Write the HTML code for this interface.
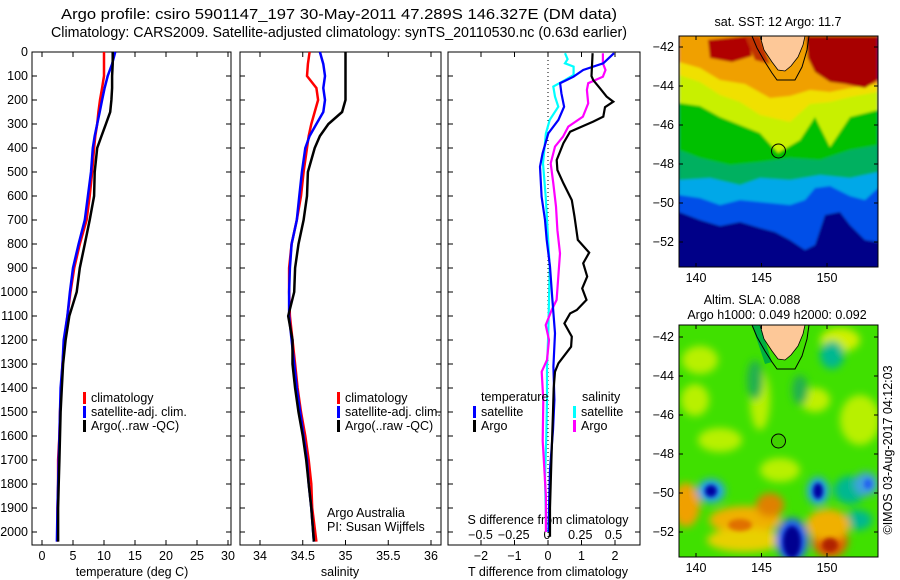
<!DOCTYPE html>
<html><head><meta charset="utf-8">
<style>
html,body{margin:0;padding:0;background:#fff;}
svg{display:block;font-family:"Liberation Sans",sans-serif;}
text{fill:#000;}
</style></head>
<body>
<svg id="fig" width="900" height="580" viewBox="0 0 900 580" xmlns="http://www.w3.org/2000/svg">
<defs>
 <filter id="blur4" x="-50%" y="-50%" width="200%" height="200%"><feGaussianBlur stdDeviation="4"/></filter>
 <filter id="blur2" x="-50%" y="-50%" width="200%" height="200%"><feGaussianBlur stdDeviation="2"/></filter>
 <filter id="blur1" x="-10%" y="-10%" width="120%" height="120%"><feGaussianBlur stdDeviation="1.2"/></filter>
 <clipPath id="clipMap1"><rect x="679" y="36" width="199" height="231"/></clipPath>
 <clipPath id="clipMap2"><rect x="679" y="325" width="199" height="232"/></clipPath>
</defs>
<text x="339" y="19" font-size="14.5" text-anchor="middle" textLength="556" lengthAdjust="spacingAndGlyphs">Argo profile: csiro 5901147_197 30-May-2011 47.289S 146.327E (DM data)</text>
<text x="339" y="37" font-size="14.5" text-anchor="middle" textLength="576" lengthAdjust="spacingAndGlyphs">Climatology: CARS2009. Satellite-adjusted climatology: synTS_20110530.nc (0.63d earlier)</text>
<g id="panels"></g>
<g id="maps"></g>
</svg>
<script>
// ---------- data ----------
const profDepth = [0,50,100,150,200,250,300,350,400,500,600,700,800,900,1000,1100,1200,1300,1400,1500,1600,1700,1800,1900,2040];
const tempClim = [10.0,10.0,10.0,9.7,9.35,9.1,8.9,8.6,8.4,8.1,7.7,7.2,6.1,5.2,4.6,4.1,3.6,3.3,3.1,2.9,2.8,2.6,2.6,2.5,2.5];
const tempSat  = [11.8,11.3,10.6,10.1,9.7,9.3,8.9,8.5,8.2,7.9,7.4,6.9,5.9,5.0,4.5,4.1,3.5,3.3,3.0,2.9,2.8,2.7,2.6,2.5,2.4];
const tempArgo = [11.4,11.4,11.3,11.3,11.2,11.0,10.3,9.6,8.9,8.5,8.4,7.7,6.9,6.1,5.6,4.4,3.8,3.4,3.2,3.0,2.9,2.8,2.7,2.6,2.6];
const salClim = [34.58,34.56,34.55,34.66,34.68,34.64,34.60,34.57,34.55,34.51,34.48,34.43,34.37,34.34,34.34,34.35,34.38,34.41,34.44,34.48,34.53,34.57,34.60,34.61,34.66];
const salSat  = [34.70,34.74,34.76,34.74,34.76,34.74,34.66,34.58,34.53,34.49,34.46,34.43,34.37,34.35,34.34,34.34,34.37,34.40,34.43,34.47,34.51,34.55,34.57,34.60,34.63];
const salArgo = [35.0,35.0,35.0,35.0,35.0,34.96,34.80,34.70,34.64,34.56,34.55,34.51,34.45,34.41,34.40,34.33,34.38,34.38,34.41,34.45,34.50,34.54,34.57,34.60,34.63];
const dTArgoDepth = [5,100,117,151,186,207,230,269,290,332,380,450,492,547,617,686,783,836,880,936,985,1033,1075,1089,1131,1186,1228,1297,1332,1400,1500,1700,1900,2020];
const dTArgo = [1.33,1.30,1.35,1.55,1.75,1.95,1.70,1.65,1.35,0.66,0.46,0.26,0.28,0.46,0.71,0.79,0.89,1.23,1.05,1.17,1.02,1.15,0.86,0.66,0.49,0.71,0.69,0.31,0.21,0.17,0.15,0.10,0.06,0.06];
const dTSatDepth = [5,47,75,103,130,172,228,283,339,422,478,603,700,783,894,1033,1172,1311,1450,1575,1740,1900,2000];
const dTSat = [1.97,1.65,1.05,0.76,0.36,0.40,0.48,0.31,0.01,-0.16,-0.24,-0.19,-0.09,-0.04,0.06,0.13,0.21,0.16,0.19,0.15,0.06,0.03,0.02];
const dSSatDepth = [5,30,47,61,96,117,144,186,228,283,339,464,603,750,894,1033,1172,1311,1450,1600,1780,1900,2000];
const dSSat = [0.135,0.155,0.135,0.20,0.20,0.135,0.047,0.06,0.085,0.02,-0.008,-0.03,-0.01,0.005,0.02,0.015,0.01,0.0,0.0,-0.005,-0.015,-0.01,-0.005];
const dSArgoDepth = [5,47,75,103,130,158,214,269,311,353,394,464,547,644,742,839,936,1033,1075,1138,1200,1283,1332,1450,1620,1850,2000];
const dSArgo = [0.42,0.42,0.44,0.42,0.31,0.30,0.31,0.27,0.16,0.12,0.06,0.028,0.047,0.068,0.078,0.098,0.085,0.072,0.035,-0.01,0.015,0.0,-0.04,-0.028,-0.032,-0.008,-0.008];
const depthTicks = [0,100,200,300,400,500,600,700,800,900,1000,1100,1200,1300,1400,1500,1600,1700,1800,1900,2000];
const tempTicks = [0,5,10,15,20,25,30];
const salTicks = [34,34.5,35,35.5,36];
const dTTicks = [-2,-1,0,1,2];
const dSTicks = [-0.5,-0.25,0,0.25,0.5];
const dSTickLabels = ["\u22120.5","\u22120.25","0","0.25","0.5"];
const latTicks = [-42,-44,-46,-48,-50,-52];
const lonTicks = [140,145,150];

// ---------- helpers ----------
const NS = "http://www.w3.org/2000/svg";
const FS = 12.5;
function mk(tag, attrs, parent){ const e=document.createElementNS(NS,tag); for(const k in attrs) e.setAttribute(k,attrs[k]); parent.appendChild(e); return e; }
function txt(s, attrs, parent){ const e=mk('text',attrs,parent); e.textContent=s; return e; }
const panels = document.getElementById('panels');
const yTop=52, yBot=545;
function yD(d){ return yTop + d*0.24; }
function xT(v){ return 42 + v*6.2; }
function xS(v){ return 260 + (v-34)*85.5; }
function xDT(v){ return 548 + v*33.5; }
function xDS(v){ return 547 + v*133; }
function line(xs, ds, xf, color, w, name, parent){
  const pts = xs.map((v,i)=> xf(v).toFixed(1)+','+yD(ds[i]).toFixed(1)).join(' ');
  const p = mk('polyline',{points:pts,fill:'none',stroke:color,'stroke-width':w,'stroke-linejoin':'miter'},parent);
  
  
  return p;
}
function frame(x0,x1,name){
  const r = mk('rect',{x:x0,y:yTop,width:x1-x0,height:yBot-yTop,fill:'none',stroke:'#000','stroke-width':1},panels);
  
  
  depthTicks.forEach(d=>{ const y=yD(d);
    mk('line',{x1:x0,y1:y,x2:x0+5,y2:y,stroke:'#000'},panels);
    mk('line',{x1:x1,y1:y,x2:x1-5,y2:y,stroke:'#000'},panels);
  });
}
function xTicks(vals, xf, labels, ly, name, top, bottom){
  vals.forEach((v,i)=>{ const x=xf(v);
    if(bottom){ mk('line',{x1:x,y1:yBot,x2:x,y2:yBot-5,stroke:'#000'},panels); }
    if(top){ mk('line',{x1:x,y1:yTop,x2:x,y2:yTop+5,stroke:'#000'},panels); }
    const t = txt(labels?labels[i]:String(v),{x:x,y:ly,'font-size':FS,'text-anchor':'middle'},panels);
    
    
  });
}
function legendEntry(x,y,color,label,name){
  const g = mk('g',{},panels);
  
  
  mk('rect',{x:x,y:y-10,width:3,height:12,fill:color},g);
  txt(label,{x:x+8,y:y,'font-size':FS},g);
}

// ---------- panel 1: temperature ----------
frame(32,231,'temperature-panel');
depthTicks.forEach(d=>{ const t=txt(String(d),{x:28,y:yD(d)+4,'font-size':FS,'text-anchor':'end'},panels);
    });
xTicks(tempTicks,xT,null,560,'temperature-tick-label',true,true);
txt('temperature (deg C)',{x:132,y:576,'font-size':FS,'text-anchor':'middle',},panels);
line(tempClim,profDepth,xT,'#ff0000',2.5,'temperature-climatology-line',panels);
line(tempSat,profDepth,xT,'#0000ff',2.5,'temperature-satellite-line',panels);
line(tempArgo,profDepth,xT,'#000000',2.5,'temperature-argo-line',panels);
legendEntry(83,402,'#ff0000','climatology','legend-climatology');
legendEntry(83,416,'#0000ff','satellite-adj. clim.','legend-satellite');
legendEntry(83,430,'#000000','Argo(..raw -QC)','legend-argo');

// ---------- panel 2: salinity ----------
frame(240,441,'salinity-panel');
xTicks(salTicks,xS,null,560,'salinity-tick-label',true,true);
txt('salinity',{x:340,y:576,'font-size':FS,'text-anchor':'middle',},panels);
line(salClim,profDepth,xS,'#ff0000',2.5,'salinity-climatology-line',panels);
line(salSat,profDepth,xS,'#0000ff',2.5,'salinity-satellite-line',panels);
line(salArgo,profDepth,xS,'#000000',2.5,'salinity-argo-line',panels);
legendEntry(337,402,'#ff0000','climatology','legend-climatology-2');
legendEntry(337,416,'#0000ff','satellite-adj. clim.','legend-satellite-2');
legendEntry(337,430,'#000000','Argo(..raw -QC)','legend-argo-2');
txt('Argo Australia',{x:327,y:517,'font-size':FS,},panels);
txt('PI: Susan Wijffels',{x:327,y:531,'font-size':FS,},panels);

// ---------- panel 3: differences ----------
frame(448,640,'difference-panel');
mk('line',{x1:548,y1:yTop,x2:548,y2:yBot,stroke:'#000','stroke-dasharray':'1,3',},panels);
xTicks(dTTicks,xDT,["\u22122","\u22121","0","1","2"],560,'t-diff-tick-label',true,true);
xTicks(dSTicks,xDS,dSTickLabels,539,'s-diff-tick-label',false,false);
txt('S difference from climatology',{x:548,y:524,'font-size':FS,'text-anchor':'middle',},panels);
txt('T difference from climatology',{x:548,y:576,'font-size':FS,'text-anchor':'middle',},panels);
line(dSSat,dSSatDepth,xDS,'#00ffff',2.2,'s-diff-satellite-line',panels);
line(dSArgo,dSArgoDepth,xDS,'#ff00ff',2.2,'s-diff-argo-line',panels);
line(dTSat,dTSatDepth,xDT,'#0000ff',2.2,'t-diff-satellite-line',panels);
line(dTArgo,dTArgoDepth,xDT,'#000000',2.2,'t-diff-argo-line',panels);
txt('temperature',{x:481,y:401,'font-size':FS,},panels);
legendEntry(473,416,'#0000ff','satellite','legend-t-satellite');
legendEntry(473,430,'#000000','Argo','legend-t-argo');
txt('salinity',{x:582,y:401,'font-size':FS,},panels);
legendEntry(573,416,'#00ffff','satellite','legend-s-satellite');
legendEntry(573,430,'#ff00ff','Argo','legend-s-argo');

// ---------- maps ----------
const maps = document.getElementById('maps');
function P(pts){ return pts.map(p=>p.join(',')).join(' '); }
function band(g,color,edge,y0){
  const pts=[[679,y0]].concat(edge).concat([[878,y0]]);
  mk('polygon',{points:P(pts),fill:color},g);
}
function mapAxes(x0,y0,h,latY0,name){
  const r=mk('rect',{x:x0,y:y0,width:199,height:h,fill:'none',stroke:'#000'},maps);
  
  
  latTicks.forEach(l=>{ const y=latY0+(-42-l)*19.5;
    mk('line',{x1:x0,y1:y,x2:x0+4,y2:y,stroke:'#000'},maps);
    mk('line',{x1:x0+199,y1:y,x2:x0+195,y2:y,stroke:'#000'},maps);
    const t=txt('\u2212'+String(-l),{x:674,y:y+4,'font-size':FS,'text-anchor':'end'},maps);
     
  });
  lonTicks.forEach(lo=>{ const x=696+(lo-140)*13.1;
    mk('line',{x1:x,y1:y0+h,x2:x,y2:y0+h-4,stroke:'#000'},maps);
    mk('line',{x1:x,y1:y0,x2:x,y2:y0+4,stroke:'#000'},maps);
    const t=txt(String(lo),{x:x,y:y0+h+15,'font-size':FS,'text-anchor':'middle'},maps);
     
  });
}
function tasmania(g,dy){
  mk('polygon',{points:P([[760,36+dy],[764,50+dy],[772,62+dy],[778,70+dy],[785,71+dy],[791,66+dy],[798,57+dy],[803,45+dy],[805,36+dy]]),fill:'#fdc898',stroke:'#000','stroke-width':0.8},g);
  mk('polyline',{points:P([[752,36+dy],[757,48+dy],[765,62+dy],[772,73+dy],[777,80+dy],[795,80+dy],[802,67+dy],[807,50+dy],[809,36+dy]]),fill:'none',stroke:'#000','stroke-width':1},g);
}
// SST map
const m1 = mk('g',{'clip-path':'url(#clipMap1)'},maps);


const m1f = mk('g',{filter:'url(#blur1)'},m1);
mk('rect',{x:670,y:30,width:215,height:245,fill:'#000088'},m1f);
band(m1f,'#0050e8',[[679,212],[700,220],[720,226],[740,222],[760,228],[775,232],[790,240],[805,250],[815,245],[825,215],[840,212],[850,225],[865,240],[878,242]],30);
band(m1f,'#00a8e8',[[679,195],[700,198],[720,205],[740,200],[760,202],[790,205],[805,200],[815,188],[830,186],[850,196],[865,200],[878,188]],30);
band(m1f,'#00b060',[[679,180],[710,178],[740,185],[760,178],[790,180],[820,175],[850,178],[878,172]],30);
band(m1f,'#00c000',[[679,150],[700,158],[730,165],[760,162],[790,158],[820,160],[850,150],[878,145]],30);
band(m1f,'#c8f000',[[679,103],[700,106],[720,117],[740,125],[760,133],[778,153],[800,140],[815,117],[830,147],[850,117],[878,110]],30);
band(m1f,'#f0e000',[[679,75],[700,82],[720,95],[740,102],[760,115],[790,122],[810,104],[830,102],[850,97],[878,92]],30);
band(m1f,'#f0a000',[[679,62],[700,68],[720,80],[745,84],[770,98],[790,96],[810,90],[830,92],[850,88],[878,84]],30);
mk('polygon',{points:P([[708,40],[748,36],[752,56],[732,62],[710,58]]),fill:'#b00000'},m1f);
mk('polygon',{points:P([[806,36],[878,36],[878,80],[865,88],[845,84],[830,82],[815,72],[808,58]]),fill:'#a80000'},m1f);
mk('polygon',{points:P([[745,36],[760,36],[770,64],[755,60]]),fill:'#c03000'},m1f);
tasmania(m1,0);
mk('circle',{cx:778.5,cy:151,r:7,fill:'none',stroke:'#000','stroke-width':1,},m1);
mapAxes(679,36,231,47,'sst-map');
txt('sat. SST: 12 Argo: 11.7',{x:778,y:26,'font-size':FS,'text-anchor':'middle',},maps);

// SLA map
const m2 = mk('g',{'clip-path':'url(#clipMap2)'},maps);


mk('rect',{x:679,y:325,width:199,height:232,fill:'#40e000'},m2);
const blobs = mk('g',{filter:'url(#blur4)'},m2);
[[700,360,18,14,'#b8f000'],[760,400,10,30,'#b8f000'],[840,340,20,12,'#d0f000'],[720,440,22,12,'#b8f000'],[860,420,20,25,'#b8f000'],[815,400,15,12,'#c0f000'],[780,470,20,12,'#b8f000'],[695,400,14,16,'#b8f000'],
 [832,355,12,14,'#00b890'],[755,380,8,20,'#20b050'],[800,390,8,15,'#20b050'],[850,490,16,14,'#00b890'],[858,520,14,10,'#00b890'],
 [686,505,14,22,'#f0a000'],[745,520,36,14,'#f0b000'],[745,540,38,12,'#e8d000'],[770,505,14,12,'#e08000'],
 [830,540,18,18,'#e06000'],[828,525,22,16,'#f0b000'],
 [711,491,14,12,'#20a0f0'],[818,491,11,14,'#20a0f0'],[866,484,12,12,'#40a0e0'],[792,540,16,22,'#2060f0']
].forEach(b=>mk('ellipse',{cx:b[0],cy:b[1],rx:b[2],ry:b[3],fill:b[4]},blobs));
const core = mk('g',{filter:'url(#blur2)'},m2);
[[711,491,6,6,'#0000a0'],[818,491,5,8,'#0000a0'],[792,542,9,16,'#000090'],[830,545,8,7,'#b02000'],[740,525,12,6,'#e07000'],[868,484,4,5,'#2060f0']].forEach(b=>mk('ellipse',{cx:b[0],cy:b[1],rx:b[2],ry:b[3],fill:b[4]},core));
mk('polygon',{points:P([[752,325],[760,325],[772,362],[765,364]]),fill:'#00b040'},m2);
tasmania(m2,289);
mk('circle',{cx:778.5,cy:441,r:7,fill:'#40d000',stroke:'#000','stroke-width':1,},m2);
mapAxes(679,325,232,337,'sla-map');
txt('Altim. SLA: 0.088',{x:752,y:304,'font-size':FS,'text-anchor':'middle',},maps);
txt('Argo h1000: 0.049 h2000: 0.092',{x:777,y:319,'font-size':FS,'text-anchor':'middle',},maps);
txt('\u00A9IMOS 03-Aug-2017 04:12:03',{x:0,y:0,'font-size':FS,'text-anchor':'middle',transform:'translate(892,450) rotate(-90)',},maps);
</script>
</body></html>
